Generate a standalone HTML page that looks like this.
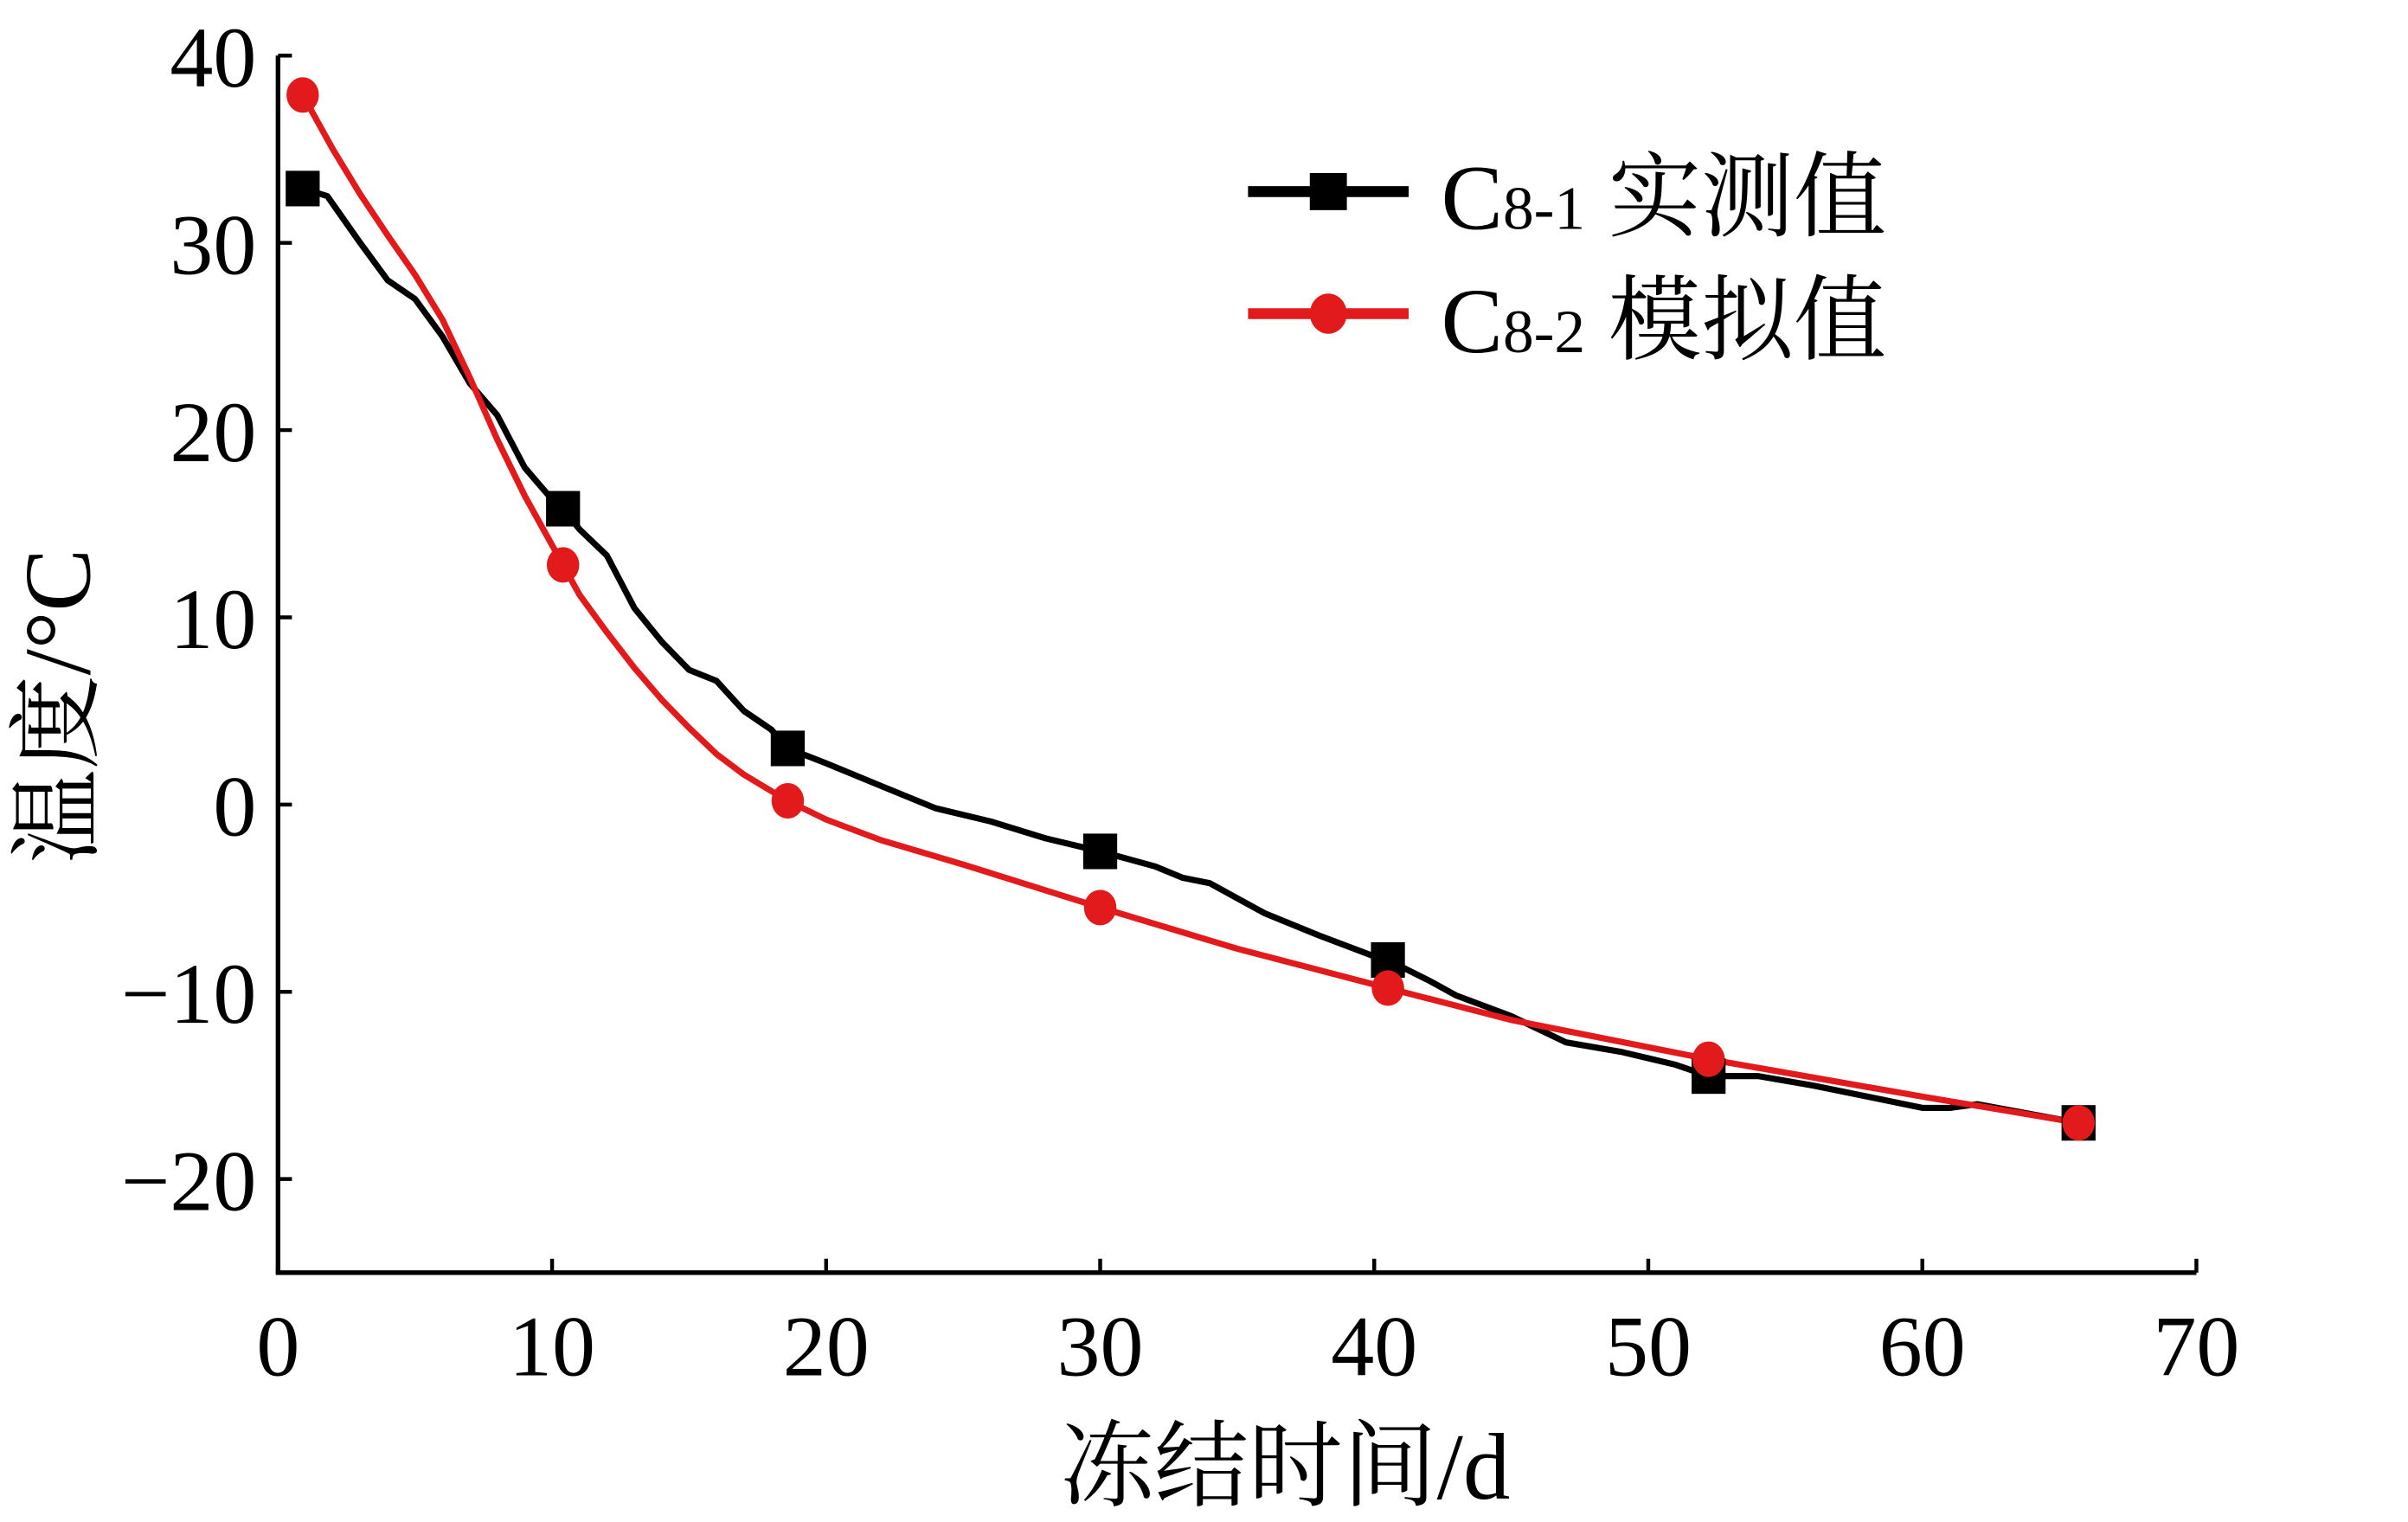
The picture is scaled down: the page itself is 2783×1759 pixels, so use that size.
<!DOCTYPE html>
<html><head><meta charset="utf-8">
<style>
html,body{margin:0;padding:0;background:#fff;width:2783px;height:1759px;overflow:hidden}
svg{display:block}
text{font-family:"Liberation Serif","Times New Roman","Noto Serif CJK SC",serif;fill:#000}
</style></head>
<body>
<svg id="chart" width="2783" height="1759" viewBox="0 0 1559 985" preserveAspectRatio="none" xmlns="http://www.w3.org/2000/svg">
<g id="axes"></g>
<g id="series"></g>
<g>
  <line x1="808" y1="124" x2="912" y2="124" stroke="#000" stroke-width="7"/>
  <rect x="848" y="112" width="24" height="24" fill="#000"/>
  <text x="933" y="148" font-size="60" font-family="Liberation Serif, Noto Serif CJK SC, serif">C<tspan font-size="40">8-1</tspan> 实测值</text>
  <line x1="808" y1="203" x2="912" y2="203" stroke="#e31a1c" stroke-width="7"/>
  <ellipse cx="860" cy="203" rx="12" ry="13" fill="#e31a1c"/>
  <text x="933" y="228" font-size="60" font-family="Liberation Serif, Noto Serif CJK SC, serif">C<tspan font-size="40">8-2</tspan> 模拟值</text>
</g>
<text x="832" y="970" font-size="61" text-anchor="middle" font-family="Liberation Serif, Noto Serif CJK SC, serif">冻结时间/d</text>
<text transform="translate(58,457) rotate(-90)" font-size="61" text-anchor="middle" font-family="Liberation Serif, Noto Serif CJK SC, serif">温度/°C</text>
</svg>
<script>
const xTicks=[0,10,20,30,40,50,60,70];
const yTicks=[40,30,20,10,0,-10,-20];
const yTickLabels=["40","30","20","10","0","\u221210","\u221220"];
const measuredX=[0.9,1.8,3,4,5,6,7,8,9,10,10.4,11,12,13,14,15,16,17,18,18.6,20,22,24,26,28,30,32,33,34,35,36,38,40,40.5,42,43,45,47,49,51,52.2,54,56,58,60,61,62,65.7];
const measuredY=[32.9,32.5,30,28,27,25,22.5,20.8,18,16.3,15.8,14.7,13.3,10.5,8.7,7.2,6.6,5,4,3,2.2,1,-0.2,-0.9,-1.8,-2.5,-3.3,-3.9,-4.2,-5,-5.8,-7,-8.1,-8.3,-9.4,-10.2,-11.3,-12.7,-13.2,-13.9,-14.5,-14.5,-15,-15.6,-16.2,-16.2,-16.0,-17];
const measuredMarkX=[0.9,10.4,18.6,30,40.5,52.2,65.7];
const measuredMarkY=[32.9,15.8,3.0,-2.5,-8.3,-14.5,-17.0];
const simX=[0.9,2,3,4,5,6,7,8,9,10.4,11,12,13,14,15,16,17,18.6,20,22,25,30,35,40.5,45,52.2,60,65.7];
const simY=[37.9,35,32.6,30.4,28.3,25.9,22.8,19.5,16.5,12.8,11.2,9.2,7.3,5.6,4.1,2.7,1.6,0.2,-0.8,-1.9,-3.2,-5.5,-7.7,-9.8,-11.5,-13.6,-15.6,-17];
const simMarkX=[0.9,10.4,18.6,30,40.5,52.2,65.7];
const simMarkY=[37.9,12.8,0.2,-5.5,-9.8,-13.6,-17.0];

const NS="http://www.w3.org/2000/svg";
const X0=180,X1=1422,Y40=36,Y0=520.7;
function sx(v){return X0+(X1-X0)*v/70;}
function sy(v){return Y0-(Y0-Y40)*v/40;}
function mk(tag,attrs,parent){const e=document.createElementNS(NS,tag);for(const k in attrs)e.setAttribute(k,attrs[k]);parent.appendChild(e);return e;}
const axes=document.getElementById('axes');
const series=document.getElementById('series');
const yBottom=sy(-25);
let e;
e=mk('line',{x1:X0,y1:sy(40),x2:X0,y2:yBottom,stroke:'#000','stroke-width':3},axes);


e=mk('line',{x1:X0-1.5,y1:yBottom,x2:X1,y2:yBottom,stroke:'#000','stroke-width':3},axes);


xTicks.forEach(function(t){
  if(t>0){e=mk('line',{x1:sx(t),y1:yBottom,x2:sx(t),y2:yBottom-9,stroke:'#000','stroke-width':2.5},axes);
  
  }
  e=mk('text',{x:sx(t),y:890,'font-size':56,'text-anchor':'middle','font-family':'Liberation Serif, serif'},axes);
  e.textContent=String(t);
  
  
});
yTicks.forEach(function(t,i){
  e=mk('line',{x1:X0,y1:sy(t),x2:X0+9,y2:sy(t),stroke:'#000','stroke-width':2.5},axes);
  
  
  e=mk('text',{x:166,y:sy(t)+20,'font-size':56,'text-anchor':'end','font-family':'Liberation Serif, serif'},axes);
  e.textContent=yTickLabels[i];
  
  
});
function pts(xs,ys){return xs.map(function(x,i){return sx(x).toFixed(1)+','+sy(ys[i]).toFixed(1);}).join(' ');}
e=mk('polyline',{points:pts(measuredX,measuredY),fill:'none',stroke:'#000','stroke-width':4,'stroke-linejoin':'round'},series);


e=mk('polyline',{points:pts(simX,simY),fill:'none',stroke:'#e31a1c','stroke-width':4,'stroke-linejoin':'round'},series);


measuredMarkX.forEach(function(x,i){
  e=mk('rect',{x:sx(x)-11,y:sy(measuredMarkY[i])-11.5,width:22,height:23,fill:'#000'},series);
  
  
});
simMarkX.forEach(function(x,i){
  e=mk('ellipse',{cx:sx(x),cy:sy(simMarkY[i]),rx:10.5,ry:11.5,fill:'#e31a1c'},series);
  
  
});
</script>
</body></html>
